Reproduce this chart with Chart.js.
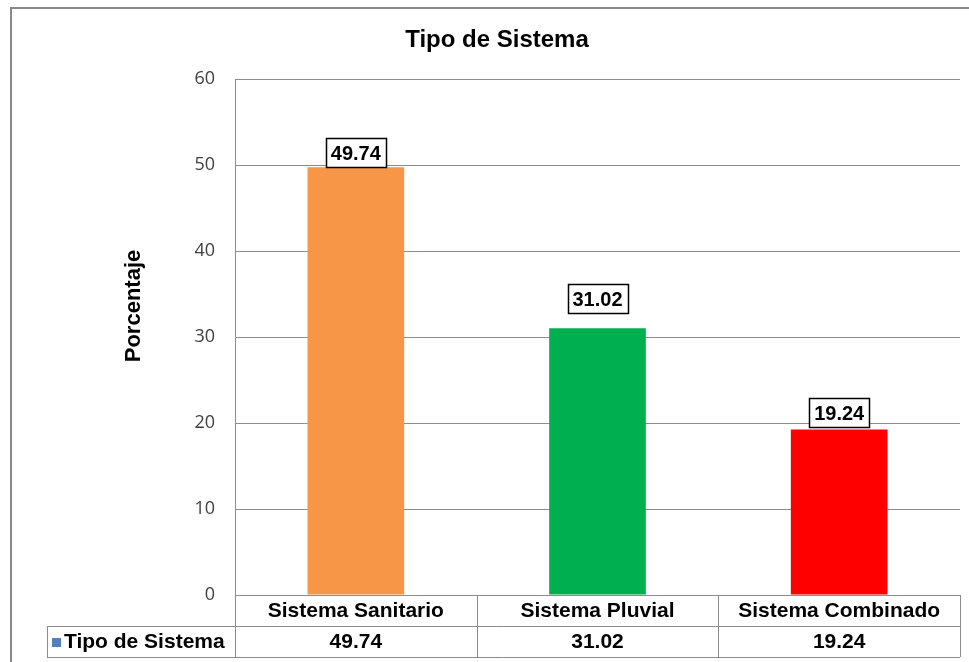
<!DOCTYPE html>
<html>
<head>
<meta charset="utf-8">
<script src="https://cdn.jsdelivr.net/npm/chart.js@4/dist/chart.umd.min.js"></script>
<style>
  html, body { margin: 0; padding: 0; background: #fff; }
  #wrap { width: 969px; height: 662px; }
</style>
</head>
<body>
<div id="wrap"><canvas id="sistemaChart" width="969" height="662"></canvas></div>
<script>
// Chart data
const categories = ['Sistema Sanitario', 'Sistema Pluvial', 'Sistema Combinado'];
const seriesName = 'Tipo de Sistema';
const values = [49.74, 31.02, 19.24];
const barColors = ['#F79646', '#00B050', '#FF0000'];
const yTicks = [0, 10, 20, 30, 40, 50, 60];

const lineGray = '#8c8c8c';
const boldFont = '"Liberation Sans", Arial, sans-serif';

// Title, axis title, value boxes, data table and outer frame
const excelDecor = {
  id: 'excelDecor',
  afterDraw(chart, args, opts) {
    const { ctx, chartArea: area, scales: { x, y } } = chart;
    ctx.save();

    // outer frame
    ctx.strokeStyle = '#888';
    ctx.lineWidth = 2;
    ctx.beginPath();
    ctx.moveTo(11, 662);
    ctx.lineTo(11, 8);
    ctx.lineTo(969, 8);
    ctx.stroke();

    // chart title
    ctx.fillStyle = '#000';
    ctx.textAlign = 'center';
    ctx.textBaseline = 'middle';
    ctx.font = 'bold 24px ' + boldFont;
    ctx.fillText('Tipo de Sistema', 497, 40);

    // y axis title
    ctx.save();
    ctx.translate(134, 306);
    ctx.rotate(-Math.PI / 2);
    ctx.font = 'bold 22px ' + boldFont;
    ctx.fillText('Porcentaje', 0, 0);
    ctx.restore();

    // value boxes above bars
    const meta = chart.getDatasetMeta(0);
    ctx.font = 'bold 20px ' + boldFont;
    meta.data.forEach((bar, i) => {
      const bw = 60, bh = 29;
      const bottom = bar.y - opts.labelGaps[i];
      const left = Math.round(bar.x - bw / 2) + 0.5;
      const top = Math.round(bottom - bh) + 0.5;
      ctx.fillStyle = '#fff';
      ctx.fillRect(left, top, bw, bh);
      ctx.strokeStyle = '#000';
      ctx.lineWidth = 1.5;
      ctx.strokeRect(left, top, bw, bh);
      ctx.fillStyle = '#000';
      ctx.fillText(values[i].toFixed(2), bar.x, top + bh / 2 + 1);
    });

    // data table under the plot
    const rowH = 31;
    const r0 = area.bottom, r1 = r0 + rowH, r2 = r1 + rowH;
    const tableLeft = 47;
    const step = (area.right - area.left) / categories.length;
    ctx.strokeStyle = lineGray;
    ctx.lineWidth = 1;
    ctx.beginPath();
    for (let i = 0; i <= categories.length; i++) {
      const cx = Math.round(area.left + step * i) + 0.5;
      ctx.moveTo(cx, r0);
      ctx.lineTo(cx, r2);
    }
    ctx.moveTo(tableLeft + 0.5, r1);
    ctx.lineTo(tableLeft + 0.5, r2);
    ctx.moveTo(tableLeft, r1 + 0.5);
    ctx.lineTo(area.right, r1 + 0.5);
    ctx.moveTo(tableLeft, r2 + 0.5);
    ctx.lineTo(area.right, r2 + 0.5);
    ctx.stroke();

    ctx.fillStyle = '#000';
    ctx.font = 'bold 21px ' + boldFont;
    categories.forEach((c, i) => {
      const cx = x.getPixelForValue(i);
      ctx.fillText(c, cx, r0 + rowH / 2 + 1);
      ctx.fillText(values[i].toFixed(2), cx, r1 + rowH / 2 + 1);
    });

    // legend key in the table
    ctx.fillStyle = '#4F81BD';
    ctx.fillRect(52, r1 + 12, 9, 9);
    ctx.fillStyle = '#000';
    ctx.textAlign = 'left';
    ctx.fillText(seriesName, 64, r1 + rowH / 2 + 1);

    ctx.restore();
  }
};

new Chart(document.getElementById('sistemaChart'), {
  type: 'bar',
  data: {
    labels: categories,
    datasets: [{
      label: seriesName,
      data: values,
      backgroundColor: barColors,
      borderWidth: 0,
      categoryPercentage: 1,
      barPercentage: 0.4
    }]
  },
  options: {
    responsive: false,
    animation: false,
    layout: { padding: { top: 79, right: 9, bottom: 67, left: 0 } },
    scales: {
      x: {
        display: false
      },
      y: {
        min: 0,
        max: 60,
        afterBuildTicks: s => { s.ticks = yTicks.map(v => ({ value: v })); },
        afterFit: s => { s.width = 235; },
        grid: { color: lineGray, drawTicks: false },
        border: { color: lineGray, width: 1 },
        ticks: {
          padding: 20,
          color: '#404040',
          font: { family: '"Open Sans", sans-serif', size: 18 }
        }
      }
    },
    plugins: {
      legend: { display: false },
      tooltip: { enabled: false },
      excelDecor: { labelGaps: [0, 15, 3] }
    }
  },
  plugins: [excelDecor]
});
</script>
</body>
</html>
